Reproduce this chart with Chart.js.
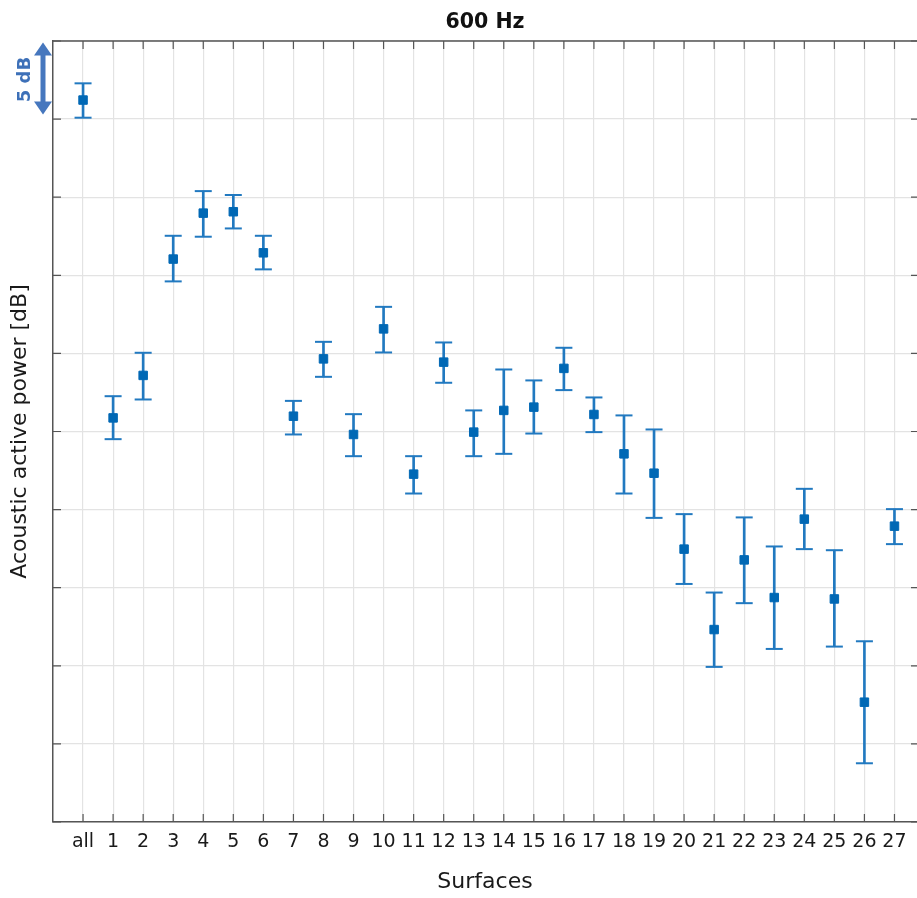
<!DOCTYPE html>
<html>
<head>
<meta charset="utf-8">
<script src="https://cdn.jsdelivr.net/npm/chart.js@4.4.1/dist/chart.umd.min.js"></script>
<style>
  html, body { margin: 0; padding: 0; background: #ffffff; }
  #c { display: block; }
</style>
</head>
<body>
<canvas id="c" width="917" height="898"></canvas>
<script>
// ---- data (dB, arbitrary offset; 5 dB per grid step) ----
const categories = ['all','1','2','3','4','5','6','7','8','9','10','11','12','13','14','15','16','17','18','19','20','21','22','23','24','25','26','27'];
const meanValues = [46.22, 25.87, 28.59, 36.04, 38.98, 39.07, 36.44, 25.98, 29.65, 24.81, 31.57, 22.27, 29.44, 24.96, 26.35, 26.56, 29.04, 26.09, 23.57, 22.33, 17.47, 12.32, 16.78, 14.37, 19.39, 14.28, 7.67, 18.94];
const upperValues = [47.29, 27.26, 30.04, 37.53, 40.39, 40.14, 37.53, 26.96, 30.74, 26.11, 32.98, 23.42, 30.70, 26.35, 28.97, 28.27, 30.36, 27.18, 26.03, 25.13, 19.71, 14.69, 19.50, 17.64, 21.33, 17.40, 11.57, 20.03];
const lowerValues = [45.09, 24.51, 27.05, 34.61, 37.47, 38.00, 35.38, 24.81, 28.50, 23.42, 30.06, 21.03, 28.12, 23.42, 23.57, 24.87, 27.65, 24.96, 21.03, 19.47, 15.24, 9.93, 14.01, 11.08, 17.47, 11.23, 3.76, 17.79];
const yTickValues = [0, 5, 10, 15, 20, 25, 30, 35, 40, 45, 50];
const scaleBarFrom = [49.9];   // "5 dB" arrow, upper end
const scaleBarTo = [45.3];     // "5 dB" arrow, lower end
const scaleBarLabel = ['5 dB'];

const markerColor = '#0068B5';
const barColor = '#2179C0';
const axisColor = '#555555';
const gridColor = '#e3e3e3';

const meanPts = meanValues.map((v, i) => ({x: i, y: v}));
const upPts = upperValues.map((v, i) => ({x: i, y: v}));
const lowPts = lowerValues.map((v, i) => ({x: i, y: v}));
const whiskers = meanValues.map((v, i) => ({x: i, y: [lowerValues[i], upperValues[i]]}));

const framePlugin = {
  id: 'frame',
  beforeDatasetsDraw(chart) {
    const {ctx, chartArea: a, scales: {x, y}} = chart;
    ctx.save();
    ctx.strokeStyle = axisColor;
    ctx.lineWidth = 1.5;
    ctx.beginPath();
    ctx.moveTo(a.left, a.top); ctx.lineTo(a.right, a.top);
    ctx.stroke();
    ctx.lineWidth = 1.2;
    ctx.beginPath();
    categories.forEach((c, i) => {
      const px = x.getPixelForValue(i);
      ctx.moveTo(px, a.bottom); ctx.lineTo(px, a.bottom - 8);
      ctx.moveTo(px, a.top); ctx.lineTo(px, a.top + 8);
    });
    yTickValues.forEach(v => {
      const py = y.getPixelForValue(v);
      ctx.moveTo(a.left, py); ctx.lineTo(a.left + 8, py);
      ctx.moveTo(a.right + 1, py); ctx.lineTo(a.right - 6, py);
    });
    ctx.stroke();
    ctx.restore();
  },
  afterDraw(chart) {
    const {ctx, scales: {y}} = chart;
    const y1 = y.getPixelForValue(scaleBarFrom[0]);
    const y2 = y.getPixelForValue(scaleBarTo[0]);
    const ax = 43;
    ctx.save();
    ctx.fillStyle = '#4677BE';
    ctx.strokeStyle = '#4677BE';
    ctx.lineWidth = 5;
    ctx.beginPath();
    ctx.moveTo(ax, y1 + 8); ctx.lineTo(ax, y2 - 8);
    ctx.stroke();
    ctx.beginPath();
    ctx.moveTo(ax, y1); ctx.lineTo(ax - 9, y1 + 13); ctx.lineTo(ax + 9, y1 + 13); ctx.closePath();
    ctx.fill();
    ctx.beginPath();
    ctx.moveTo(ax, y2); ctx.lineTo(ax - 9, y2 - 13); ctx.lineTo(ax + 9, y2 - 13); ctx.closePath();
    ctx.fill();
    ctx.translate(25, (y1 + y2) / 2 + 1);
    ctx.rotate(-Math.PI / 2);
    ctx.font = 'bold 18px "DejaVu Sans"';
    ctx.fillStyle = '#3D70B8';
    ctx.textAlign = 'center';
    ctx.textBaseline = 'middle';
    ctx.fillText(scaleBarLabel[0], 0, 0);
    ctx.restore();
  }
};

new Chart(document.getElementById('c'), {
  type: 'scatter',
  data: {
    datasets: [
      {
        label: 'mean',
        data: meanPts,
        pointStyle: 'rect',
        pointRadius: 6,
        pointBackgroundColor: markerColor,
        pointBorderColor: markerColor,
        pointBorderWidth: 1,
        showLine: false
      },
      {
        label: 'upper',
        data: upPts,
        pointStyle: 'line',
        pointRadius: 8.5,
        pointBorderColor: barColor,
        pointBorderWidth: 2,
        showLine: false
      },
      {
        label: 'lower',
        data: lowPts,
        pointStyle: 'line',
        pointRadius: 8.5,
        pointBorderColor: barColor,
        pointBorderWidth: 2,
        showLine: false
      },
      {
        type: 'bar',
        label: 'range',
        data: whiskers,
        backgroundColor: barColor,
        borderWidth: 0,
        barThickness: 2,
        grouped: false
      }
    ]
  },
  options: {
    responsive: false,
    animation: false,
    events: [],
    layout: { padding: 0, autoPadding: false },
    plugins: {
      legend: { display: false },
      tooltip: { enabled: false },
      title: {
        display: true,
        text: '600 Hz',
        fullSize: false,
        color: '#111111',
        font: { family: '"DejaVu Sans"', size: 20.5, weight: 'bold' },
        padding: { top: 10, bottom: 6.4 }
      }
    },
    scales: {
      x: {
        type: 'linear',
        min: -1,
        max: 27.75,
        offset: false,
        afterBuildTicks(scale) {
          scale.ticks = categories.map((c, i) => ({ value: i }));
        },
        afterFit(scale) {
          scale.height = 76;
          scale.paddingLeft = 0;
          scale.paddingRight = 0;
        },
        grid: { color: gridColor, lineWidth: 1.2, drawTicks: false, offset: false },
        border: { display: true, color: axisColor, width: 1.5 },
        ticks: {
          autoSkip: false,
          maxRotation: 0,
          padding: 9,
          color: '#1a1a1a',
          font: { family: '"DejaVu Sans"', size: 19 },
          callback: (v) => (categories[v] !== undefined ? categories[v] : '')
        },
        title: {
          display: true,
          text: 'Surfaces',
          color: '#1a1a1a',
          font: { family: '"DejaVu Sans"', size: 22 },
          padding: { top: 3, bottom: 3 }
        }
      },
      y: {
        type: 'linear',
        min: 0,
        max: 50,
        afterBuildTicks(scale) {
          scale.ticks = yTickValues.map(v => ({ value: v }));
        },
        afterFit(scale) {
          scale.width = 53;
          scale.paddingTop = 0;
          scale.paddingBottom = 0;
        },
        grid: { color: gridColor, lineWidth: 1.2, drawTicks: false },
        border: { display: true, color: axisColor, width: 1.5 },
        ticks: { display: false },
        title: {
          display: true,
          text: 'Acoustic active power [dB]',
          color: '#1a1a1a',
          font: { family: '"DejaVu Sans"', size: 22 },
          padding: { top: 7, bottom: 7 }
        }
      }
    }
  },
  plugins: [framePlugin]
});
</script>
</body>
</html>
